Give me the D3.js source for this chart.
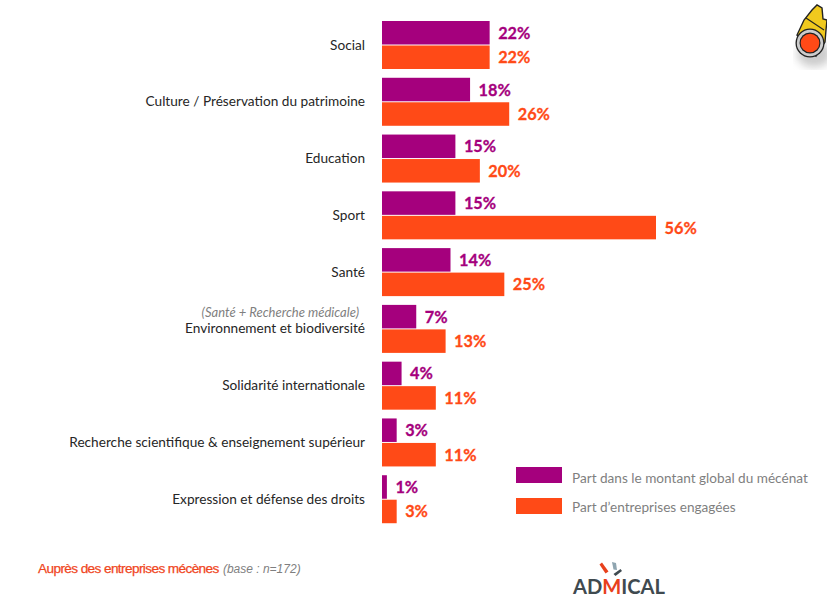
<!DOCTYPE html>
<html><head><meta charset="utf-8">
<script src="https://cdn.jsdelivr.net/npm/d3@7/dist/d3.min.js"></script>
<style>html,body{margin:0;padding:0;background:#fff}svg{display:block}text{font-family:Lato,"Open Sans",sans-serif}</style>
</head><body><svg id="c" width="827" height="605"></svg>
<script>
const categories=["Social","Culture / Préservation du patrimoine","Education","Sport","Santé","Environnement et biodiversité","Solidarité internationale","Recherche scientifique & enseignement supérieur","Expression et défense des droits"];
const montant=[22,18,15,15,14,7,4,3,1];
const entreprises=[22,26,20,56,25,13,11,11,3];
const seriesNames=["Part dans le montant global du mécénat","Part d’entreprises engagées"];
const colors=["#A5007D","#FF4A17"];
const svg=d3.select("#c");
const x=d3.scaleLinear().domain([0,56]).range([382,656]);
const y=d3.scaleBand().domain(categories).range([16.5,527.5]).paddingInner(0);
const sub=d3.scaleBand().domain([0,1]).range([4.5,52.5]).paddingInner(0.04);
const rows=svg.selectAll("g.row").data(categories).join("g").attr("class","row").attr("transform",d=>`translate(0,${y(d)})`);
rows.append("text").attr("x",365).attr("y",33).attr("text-anchor","end").attr("font-size",13.65).attr("fill","#262626").text(d=>d);
[montant,entreprises].forEach((vals,s)=>{
 rows.append("rect").attr("x",x(0)).attr("y",sub(s)).attr("width",(d,i)=>x(vals[i])-x(0)).attr("height",sub.bandwidth()).attr("fill",colors[s]);
 rows.append("text").attr("x",(d,i)=>x(vals[i])+8.5).attr("y",sub(s)+sub.bandwidth()/2+6).attr("font-size",16.3).attr("font-weight",700).attr("stroke",colors[s]).attr("stroke-width",0.3).attr("fill",colors[s]).text((d,i)=>vals[i]+"%");
});
svg.append("text").attr("x",359).attr("y",317).attr("text-anchor","end").attr("font-size",13).attr("font-style","italic").attr("fill","#7f7f7f").text("(Santé + Recherche médicale)");
seriesNames.forEach((n,i)=>{
 const ly=[467,498][i];
 svg.append("rect").attr("x",516).attr("y",ly).attr("width",46).attr("height",16).attr("fill",colors[i]);
 svg.append("text").attr("x",572).attr("y",[483,512][i]).attr("font-size",13.6).attr("fill","#7f7f7f").text(n);
});
const foot=svg.append("text").attr("x",38).attr("y",573).style("font-family","Liberation Sans");
foot.append("tspan").attr("fill","#F0461E").attr("stroke","#F0461E").attr("stroke-width",0.25).attr("letter-spacing",-0.6).attr("font-size",13.6).text("Auprès des entreprises mécènes ");
foot.append("tspan").attr("fill","#7f7f7f").attr("font-style","italic").attr("font-size",12).attr("dx",1).text("(base : n=172)");
// Logo
const logo=svg.append("g");
logo.append("text").attr("x",573).attr("y",593.5).attr("font-size",21).attr("font-weight",700).attr("fill","#3f4a50").attr("textLength",92).attr("lengthAdjust","spacingAndGlyphs").each(function(){
 const t=d3.select(this);
 t.append("tspan").text("AD");t.append("tspan").attr("fill","#E8401C").text("M");t.append("tspan").text("ICAL");
});
logo.append("path").attr("d","M599.5 564.5 L602 562.5 L608.5 571.5 L605.5 573.5Z").attr("fill","#E8401C");
logo.append("path").attr("d","M612 562 L616 563 L617 570 L613.5 569.5Z").attr("fill","#8fa5b0");
logo.append("path").attr("d","M613.5 574 L620.5 569 L622 571 L615.5 576Z").attr("fill","#3f4a50");
// Binoculars icon
const b=svg.append("g");
const defs=svg.append("defs");
defs.append("filter").attr("id","bl").append("feGaussianBlur").attr("stdDeviation",4);
b.append("ellipse").attr("cx",814).attr("cy",54).attr("rx",17).attr("ry",13).attr("fill","#999").attr("opacity",.5).attr("filter","url(#bl)");
b.append("path").attr("d","M827 20 L823 19 L822 8 L817 5 L812 10 L804 20 L797 35 L816 56 L825 42 L826 30Z").attr("fill","#F0C91E").attr("stroke","#222").attr("stroke-width",1.4);
b.append("path").attr("d","M806 18 L824 30").attr("stroke","#222").attr("stroke-width",1.2).attr("fill","none");
b.append("circle").attr("cx",810).attr("cy",43).attr("r",14.5).attr("fill","#222");
b.append("circle").attr("cx",810).attr("cy",43).attr("r",13.2).attr("fill","#ccc");
b.append("circle").attr("cx",810).attr("cy",43).attr("r",10.5).attr("fill","#222");
b.append("circle").attr("cx",810).attr("cy",43).attr("r",9.3).attr("fill","#FF4A17");
</script></body></html>
